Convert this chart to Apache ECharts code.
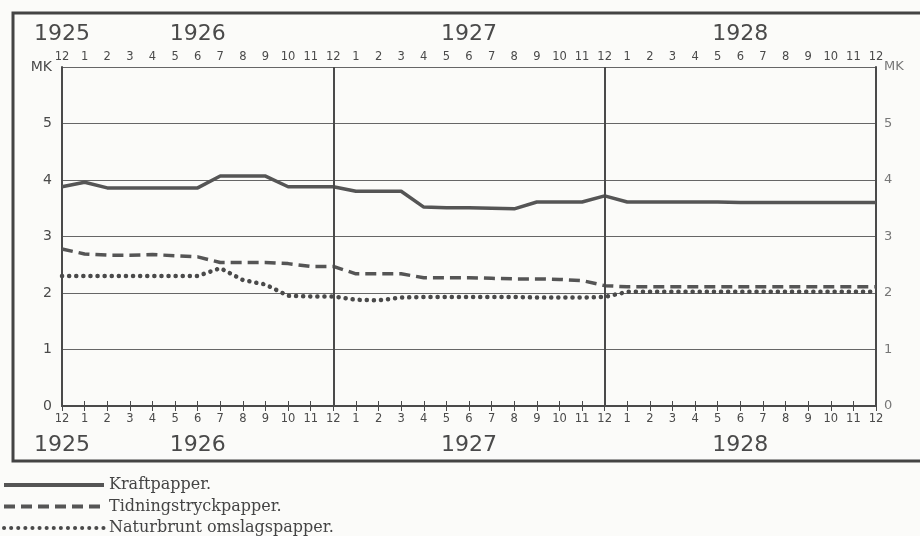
<!DOCTYPE html>
<html><head><meta charset="utf-8">
<script src="https://cdn.jsdelivr.net/npm/echarts@6/dist/echarts.min.js"></script>
<style>html,body{margin:0;padding:0;background:#fbfbf9;}#c{width:920px;height:536px;}</style>
</head><body><div id="c"></div>
<script>
const monthLabels = ['12','1','2','3','4','5','6','7','8','9','10','11','12','1','2','3','4','5','6','7','8','9','10','11','12','1','2','3','4','5','6','7','8','9','10','11','12'];
const yearLabels = ['1925','','','','','','1926','','','','','','','','','','','','1927','','','','','','','','','','','','1928','','','','','',''];
const kraft = [3.88,3.96,3.86,3.86,3.86,3.86,3.86,4.07,4.07,4.07,3.88,3.88,3.88,3.80,3.80,3.80,3.52,3.51,3.51,3.50,3.49,3.61,3.61,3.61,3.72,3.61,3.61,3.61,3.61,3.61,3.60,3.60,3.60,3.60,3.60,3.60,3.60];
const tidning = [2.78,2.69,2.67,2.67,2.68,2.66,2.64,2.54,2.54,2.54,2.52,2.47,2.47,2.34,2.34,2.34,2.27,2.27,2.27,2.26,2.25,2.25,2.24,2.22,2.13,2.11,2.11,2.11,2.11,2.11,2.11,2.11,2.11,2.11,2.11,2.11,2.11];
const natur = [2.30,2.30,2.30,2.30,2.30,2.30,2.30,2.44,2.23,2.15,1.95,1.94,1.94,1.88,1.87,1.92,1.93,1.93,1.93,1.93,1.93,1.92,1.92,1.92,1.93,2.02,2.02,2.02,2.02,2.02,2.02,2.02,2.02,2.02,2.02,2.02,2.02];
const seriesNames = ['Kraftpapper.','Tidningstryckpapper.','Naturbrunt omslagspapper.'];
const yearBoundaries = [12, 24];

const ink = '#4a4a4a';
const chart = echarts.init(document.getElementById('c'));
const monthAxis = (pos, margin) => ({
  type:'category', data:monthLabels, position:pos, boundaryGap:false, gridIndex:0,
  axisLine:{show:true, lineStyle:{color:ink, width:2}},
  axisTick:{show:true, inside:true, length:5, interval:0, lineStyle:{color:ink, width:1}},
  axisLabel:{show:true, interval:0, color:ink, fontSize:11.5, fontFamily:'DejaVu Sans', margin:margin},
  splitLine:{show:false}
});
const yearAxis = (pos, margin) => ({
  type:'category', data:yearLabels, position:pos, boundaryGap:false, gridIndex:0,
  axisLine:{show:false}, axisTick:{show:false},
  axisLabel:{show:true, interval:0, color:ink, fontSize:22, fontFamily:'DejaVu Sans', margin:margin},
  splitLine:{show:false}
});
chart.setOption({
  backgroundColor:'#fbfbf9',
  animation:false,
  grid:{left:62, right:44, top:67, bottom:130, containLabel:false},
  xAxis:[monthAxis('bottom',7), monthAxis('top',4), yearAxis('bottom',28), yearAxis('top',22)],
  yAxis:[
    {type:'value', min:0, max:6, interval:1, position:'left',
     axisLine:{show:true, lineStyle:{color:ink, width:2}}, axisTick:{show:false},
     axisLabel:{color:ink, fontSize:14, fontFamily:'DejaVu Sans', margin:10, formatter:v=>v===6?'MK':String(v)},
     splitLine:{show:true, lineStyle:{color:'#666', width:1}}},
    {type:'value', min:0, max:6, interval:1, position:'right',
     axisLine:{show:true, lineStyle:{color:ink, width:2}}, axisTick:{show:false},
     axisLabel:{color:'#777', fontSize:13, fontFamily:'DejaVu Sans', margin:8, formatter:v=>v===6?'MK':String(v)},
     splitLine:{show:false}}
  ],
  legend:{
    orient:'vertical', left:2, top:477, height:90, padding:0, itemWidth:100, itemHeight:14, itemGap:5.5,
    itemStyle:{opacity:0},
    lineStyle:{width:4},
    textStyle:{fontFamily:'DejaVu Serif', fontSize:16, color:'#444'},
    data:seriesNames
  },
  series:[
    {name:seriesNames[0], type:'line', data:kraft, symbol:'none', xAxisIndex:0, yAxisIndex:0,
     lineStyle:{color:'#555', width:3.5, type:'solid'}, itemStyle:{color:'#555'},
     markLine:{silent:true, symbol:'none', label:{show:false},
       lineStyle:{color:ink, width:2, type:'solid'},
       data:yearBoundaries.map(i=>({xAxis:i}))}},
    {name:seriesNames[1], type:'line', data:tidning, symbol:'none', xAxisIndex:0, yAxisIndex:0,
     lineStyle:{color:'#555', width:3.5, type:[11,6]}, itemStyle:{color:'#555'}},
    {name:seriesNames[2], type:'line', data:natur, symbol:'none', xAxisIndex:0, yAxisIndex:0,
     lineStyle:{color:'#4a4a4a', width:4.5, type:[0.1,7], cap:'round'}, itemStyle:{color:'#4a4a4a'}}
  ],
  graphic:[
    {type:'rect', shape:{x:13, y:13, width:940, height:448}, style:{fill:'none', stroke:'#444', lineWidth:3}, silent:true}
  ]
});
</script></body></html>
